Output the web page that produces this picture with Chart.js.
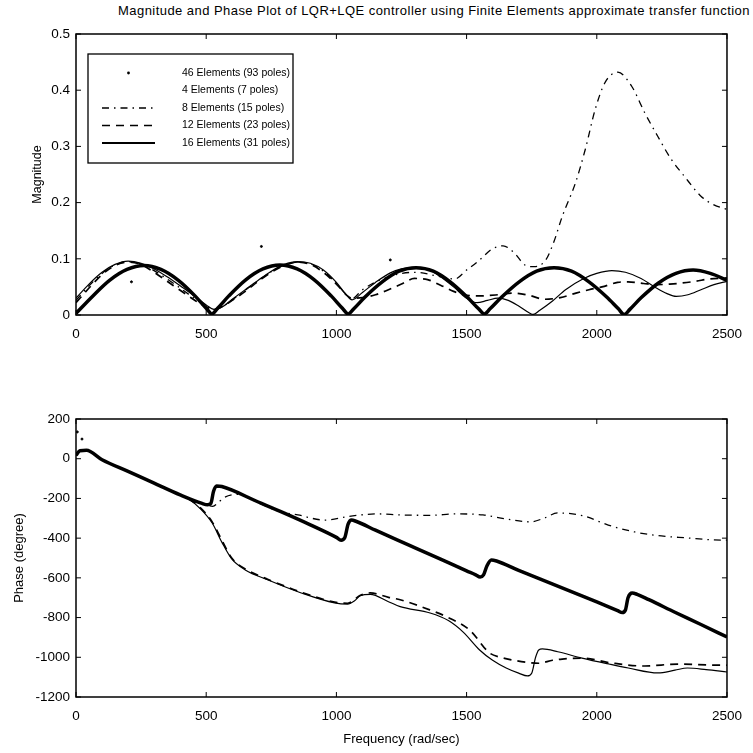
<!DOCTYPE html>
<html>
<head>
<meta charset="utf-8">
<script src="https://cdn.jsdelivr.net/npm/chart.js"></script>
<style>
  html, body { margin: 0; padding: 0; background: #fff; }
  body { width: 753px; height: 753px; position: relative; overflow: hidden; font-family: "Liberation Sans", Arial, sans-serif; }
  #title { position: absolute; left: 118px; top: 3px; font-size: 13px; letter-spacing: 0.45px; white-space: nowrap; color: #000; }
  #magChart { position: absolute; left: 0; top: 0; }
  #phaseChart { position: absolute; left: 0; top: 400px; }
</style>
</head>
<body>
<div id="title">Magnitude and Phase Plot of LQR+LQE controller using Finite Elements approximate transfer function</div>
<canvas id="magChart" width="753" height="345"></canvas>
<canvas id="phaseChart" width="753" height="353"></canvas>
<script>
// --- magnitude ---
const magFreq46 = [0, 65, 130, 196, 261, 326, 392, 457, 500, 522, 544, 587, 653, 718, 783, 849, 914, 980, 1023, 1045, 1067, 1110, 1176, 1241, 1306, 1372, 1437, 1502, 1546, 1568, 1590, 1635, 1702, 1769, 1836, 1903, 1970, 2038, 2083, 2105, 2127, 2171, 2237, 2304, 2370, 2436, 2500];
const mag46 = [0.003, 0.034, 0.062, 0.081, 0.088, 0.081, 0.062, 0.034, 0.012, 0.002, 0.012, 0.034, 0.063, 0.082, 0.089, 0.082, 0.063, 0.034, 0.012, 0.002, 0.011, 0.032, 0.059, 0.078, 0.084, 0.078, 0.059, 0.032, 0.011, 0.002, 0.011, 0.032, 0.059, 0.078, 0.084, 0.078, 0.059, 0.032, 0.011, 0.001, 0.010, 0.031, 0.057, 0.074, 0.080, 0.074, 0.062];

const magFreq4 = [213, 712, 1207];
const mag4 = [0.059, 0.122, 0.098];

const magFreq8 = [0, 50, 100, 150, 200, 250, 300, 350, 400, 450, 500, 530, 560, 600, 650, 700, 750, 800, 850, 900, 950, 1000, 1040, 1060, 1100, 1200, 1300, 1400, 1454, 1500, 1545, 1600, 1640, 1680, 1728, 1760, 1804, 1835, 1867, 1918, 1956, 1994, 2032, 2081, 2134, 2184, 2234, 2286, 2336, 2401, 2450, 2500];
const mag8 = [0.026, 0.052, 0.074, 0.089, 0.095, 0.091, 0.079, 0.064, 0.048, 0.031, 0.016, 0.010, 0.014, 0.027, 0.044, 0.061, 0.077, 0.089, 0.094, 0.091, 0.078, 0.056, 0.035, 0.029, 0.045, 0.068, 0.076, 0.068, 0.064, 0.080, 0.096, 0.118, 0.123, 0.112, 0.088, 0.086, 0.098, 0.130, 0.175, 0.235, 0.295, 0.366, 0.414, 0.432, 0.407, 0.360, 0.318, 0.277, 0.247, 0.211, 0.196, 0.188];

const magFreq12 = [0, 50, 100, 150, 200, 250, 300, 350, 400, 450, 500, 530, 560, 600, 650, 700, 750, 800, 850, 900, 950, 1000, 1040, 1060, 1100, 1150, 1200, 1250, 1300, 1350, 1400, 1450, 1490, 1550, 1620, 1680, 1740, 1800, 1860, 1920, 1970, 2020, 2080, 2120, 2180, 2230, 2280, 2330, 2380, 2430, 2500];
const mag12 = [0.022, 0.048, 0.072, 0.088, 0.094, 0.090, 0.076, 0.060, 0.044, 0.028, 0.014, 0.010, 0.015, 0.026, 0.042, 0.060, 0.076, 0.088, 0.094, 0.090, 0.076, 0.055, 0.035, 0.030, 0.031, 0.036, 0.045, 0.055, 0.065, 0.063, 0.053, 0.042, 0.036, 0.034, 0.036, 0.039, 0.035, 0.028, 0.031, 0.039, 0.045, 0.050, 0.058, 0.059, 0.056, 0.054, 0.055, 0.057, 0.060, 0.064, 0.066];

const magFreq16 = [0, 50, 100, 150, 200, 250, 300, 350, 400, 450, 500, 530, 560, 600, 650, 700, 750, 800, 850, 900, 950, 1000, 1040, 1060, 1100, 1150, 1207, 1250, 1300, 1350, 1400, 1450, 1500, 1540, 1580, 1620, 1660, 1700, 1740, 1756, 1780, 1830, 1880, 1950, 2000, 2058, 2110, 2170, 2222, 2270, 2305, 2350, 2400, 2450, 2500];
const mag16 = [0.030, 0.055, 0.076, 0.090, 0.096, 0.092, 0.082, 0.068, 0.052, 0.035, 0.018, 0.010, 0.014, 0.028, 0.045, 0.062, 0.078, 0.090, 0.095, 0.092, 0.080, 0.058, 0.035, 0.027, 0.040, 0.058, 0.075, 0.082, 0.085, 0.082, 0.068, 0.050, 0.030, 0.022, 0.026, 0.030, 0.026, 0.016, 0.004, 0.001, 0.008, 0.025, 0.045, 0.065, 0.074, 0.079, 0.076, 0.065, 0.050, 0.038, 0.033, 0.036, 0.045, 0.054, 0.060];

// --- phase (degree) ---
const phaseFreq46 = [0, 15, 40, 100, 200, 300, 400, 484, 505, 518, 528, 540, 560, 700, 800, 900, 1000, 1018, 1032, 1045, 1058, 1075, 1150, 1233, 1300, 1400, 1500, 1535, 1552, 1565, 1578, 1595, 1615, 1700, 1800, 1900, 2000, 2080, 2098, 2110, 2120, 2136, 2155, 2200, 2300, 2400, 2500];
const phase46 = [18, 40, 42, -5, -64, -123, -182, -225, -232, -225, -165, -137, -140, -218, -274, -333, -396, -410, -398, -330, -309, -315, -360, -409, -448, -506, -565, -585, -596, -585, -540, -510, -515, -562, -615, -668, -721, -765, -775, -762, -700, -676, -683, -710, -773, -835, -898];

const phaseFreq4 = [5, 23];
const phase4 = [135, 99];

const phaseFreq8 = [0, 15, 40, 100, 200, 300, 400, 484, 505, 525, 548, 570, 620, 700, 780, 852, 955, 1050, 1157, 1245, 1360, 1461, 1563, 1651, 1747, 1800, 1849, 1949, 2044, 2146, 2248, 2348, 2450, 2500];
const phase8 = [18, 40, 42, -5, -64, -123, -182, -225, -235, -240, -218, -195, -180, -222, -265, -283, -309, -290, -278, -283, -285, -278, -283, -303, -318, -298, -273, -288, -334, -369, -389, -399, -409, -410];

const phaseFreq12 = [0, 15, 40, 100, 200, 300, 400, 430, 480, 523, 560, 598, 650, 738, 865, 993, 1043, 1092, 1130, 1200, 1245, 1360, 1430, 1512, 1588, 1630, 1677, 1730, 1777, 1830, 1867, 1943, 2058, 2184, 2310, 2439, 2500];
const phase12 = [18, 40, 42, -5, -64, -123, -182, -200, -250, -318, -410, -500, -555, -608, -672, -722, -728, -688, -676, -698, -710, -762, -800, -863, -978, -1000, -1014, -1025, -1030, -1015, -1009, -1004, -1029, -1044, -1034, -1039, -1040];

const phaseFreq16 = [0, 15, 40, 100, 200, 300, 400, 430, 480, 523, 560, 598, 650, 738, 865, 993, 1043, 1070, 1092, 1130, 1200, 1245, 1360, 1430, 1487, 1550, 1600, 1652, 1700, 1734, 1750, 1765, 1777, 1791, 1850, 1943, 2050, 2121, 2235, 2300, 2348, 2420, 2500];
const phase16 = [18, 40, 42, -5, -64, -123, -182, -200, -255, -324, -420, -505, -560, -611, -676, -726, -732, -715, -690, -683, -720, -745, -777, -815, -873, -963, -1015, -1054, -1080, -1094, -1080, -1000, -963, -958, -972, -1004, -1035, -1054, -1079, -1065, -1054, -1062, -1074];

const seriesLabels = ['46 Elements (93 poles)', '4 Elements (7 poles)', '8 Elements (15 poles)', '12 Elements (23 poles)', '16 Elements (31 poles)'];
const freqTicks = [0, 500, 1000, 1500, 2000, 2500];

const FONT = '"Liberation Sans", Arial, sans-serif';
const pts = (xs, ys) => xs.map((x, i) => ({ x, y: ys[i] }));

// line styles per model size; legendKind is what the legend sample shows
function makeDatasets(f46, v46, f4, v4, f8, v8, f12, v12, f16, v16) {
    return [
        { label: seriesLabels[0], data: pts(f46, v46), borderColor: '#000', borderWidth: 3.5, legendKind: 'dot' },
        { label: seriesLabels[1], data: pts(f4, v4), showLine: false, pointRadius: 1, backgroundColor: '#000', borderColor: '#000', legendKind: 'none' },
        { label: seriesLabels[2], data: pts(f8, v8), borderColor: '#000', borderWidth: 1.3, borderDash: [7, 5, 1.5, 5], legendKind: 'line' },
        { label: seriesLabels[3], data: pts(f12, v12), borderColor: '#000', borderWidth: 1.7, borderDash: [8, 6], legendKind: 'line' },
        { label: seriesLabels[4], data: pts(f16, v16), borderColor: '#000', borderWidth: 1.2, legendKind: 'line' }
    ];
}

// matlab style box with inward ticks
const framePlugin = {
    id: 'frame',
    afterDatasetsDraw(chart) {
        const { ctx, chartArea: a, scales: { x, y } } = chart;
        const seg = (x1, y1, x2, y2) => { ctx.beginPath(); ctx.moveTo(x1, y1); ctx.lineTo(x2, y2); ctx.stroke(); };
        ctx.save();
        ctx.strokeStyle = '#000';
        ctx.lineWidth = 1.5;
        ctx.strokeRect(a.left, a.top, a.right - a.left, a.bottom - a.top);
        ctx.lineWidth = 1;
        x.ticks.forEach(t => {
            const px = x.getPixelForValue(t.value);
            seg(px, a.bottom, px, a.bottom - 5);
            seg(px, a.top, px, a.top + 5);
        });
        y.ticks.forEach(t => {
            const py = y.getPixelForValue(t.value);
            seg(a.left, py, a.left + 5, py);
            seg(a.right, py, a.right - 5, py);
        });
        ctx.restore();
    }
};

const legendBox = { left: 88, top: 54, right: 293, bottom: 163, rowTop: 73, rowGap: 17.5, lineX1: 102, lineX2: 155, textX: 182 };
const boxLegendPlugin = {
    id: 'boxLegend',
    afterDraw(chart) {
        const { ctx } = chart;
        const b = legendBox;
        ctx.save();
        ctx.fillStyle = '#fff';
        ctx.fillRect(b.left, b.top, b.right - b.left, b.bottom - b.top);
        ctx.strokeStyle = '#000';
        ctx.lineWidth = 1.3;
        ctx.strokeRect(b.left, b.top, b.right - b.left, b.bottom - b.top);
        ctx.font = '10.5px ' + FONT;
        ctx.textBaseline = 'middle';
        chart.data.datasets.forEach((ds, i) => {
            const y = b.rowTop + i * b.rowGap;
            ctx.fillStyle = '#000';
            ctx.fillText(ds.label, b.textX, y);
            if (ds.legendKind === 'dot') {
                ctx.beginPath();
                ctx.arc((b.lineX1 + b.lineX2) / 2, y, 1.4, 0, Math.PI * 2);
                ctx.fill();
            } else if (ds.legendKind === 'line') {
                ctx.beginPath();
                ctx.setLineDash(ds.borderDash || []);
                ctx.lineWidth = ds.borderDash ? 1.6 : 1.8;
                ctx.moveTo(b.lineX1, y);
                ctx.lineTo(b.lineX2, y);
                ctx.stroke();
                ctx.setLineDash([]);
            }
        });
        ctx.restore();
    }
};

function baseOptions(yOpts, xTitle, padTop, xHeight) {
    const tickFont = { family: FONT, size: 13.5 };
    return {
        responsive: false,
        animation: false,
        layout: { padding: { top: padTop, right: 20, left: 0, bottom: 0 } },
        plugins: { legend: { display: false }, tooltip: { enabled: false }, title: { display: false } },
        elements: { point: { radius: 0 }, line: { cubicInterpolationMode: 'monotone' } },
        scales: {
            x: {
                type: 'linear', min: 0, max: 2500,
                afterBuildTicks: s => { s.ticks = freqTicks.map(v => ({ value: v })); },
                ticks: { padding: 11, maxRotation: 0, autoSkip: false, color: '#000', font: tickFont, callback: v => String(v) },
                grid: { display: false, drawTicks: false },
                border: { display: false },
                title: xTitle ? { display: true, text: xTitle, color: '#000', font: { family: FONT, size: 13 }, padding: { top: 0, bottom: 6 } } : { display: false },
                afterFit: s => { s.height = xHeight; }
            },
            y: Object.assign({
                ticks: { padding: 6, color: '#000', font: tickFont, callback: v => String(Math.round(v * 10) / 10) },
                grid: { display: false, drawTicks: false },
                border: { display: false },
                afterFit: s => { s.width = 76; }
            }, yOpts)
        }
    };
}

const magOpts = baseOptions({
    min: 0, max: 0.5,
    afterBuildTicks: s => { s.ticks = [0, 0.1, 0.2, 0.3, 0.4, 0.5].map(v => ({ value: v })); },
    title: { display: true, text: 'Magnitude', color: '#000', font: { family: FONT, size: 12.5 }, padding: { top: 30, bottom: 0 } }
}, null, 34, 30);

new Chart(document.getElementById('magChart'), {
    type: 'line',
    data: { datasets: makeDatasets(magFreq46, mag46, magFreq4, mag4, magFreq8, mag8, magFreq12, mag12, magFreq16, mag16) },
    options: magOpts,
    plugins: [framePlugin, boxLegendPlugin]
});

const phaseOpts = baseOptions({
    min: -1200, max: 200,
    afterBuildTicks: s => { s.ticks = [-1200, -1000, -800, -600, -400, -200, 0, 200].map(v => ({ value: v })); },
    title: { display: true, text: 'Phase (degree)', color: '#000', font: { family: FONT, size: 13 }, padding: { top: 12, bottom: 0 } }
}, 'Frequency (rad/sec)', 19, 56);

new Chart(document.getElementById('phaseChart'), {
    type: 'line',
    data: { datasets: makeDatasets(phaseFreq46, phase46, phaseFreq4, phase4, phaseFreq8, phase8, phaseFreq12, phase12, phaseFreq16, phase16) },
    options: phaseOpts,
    plugins: [framePlugin]
});
</script>
</body>
</html>
